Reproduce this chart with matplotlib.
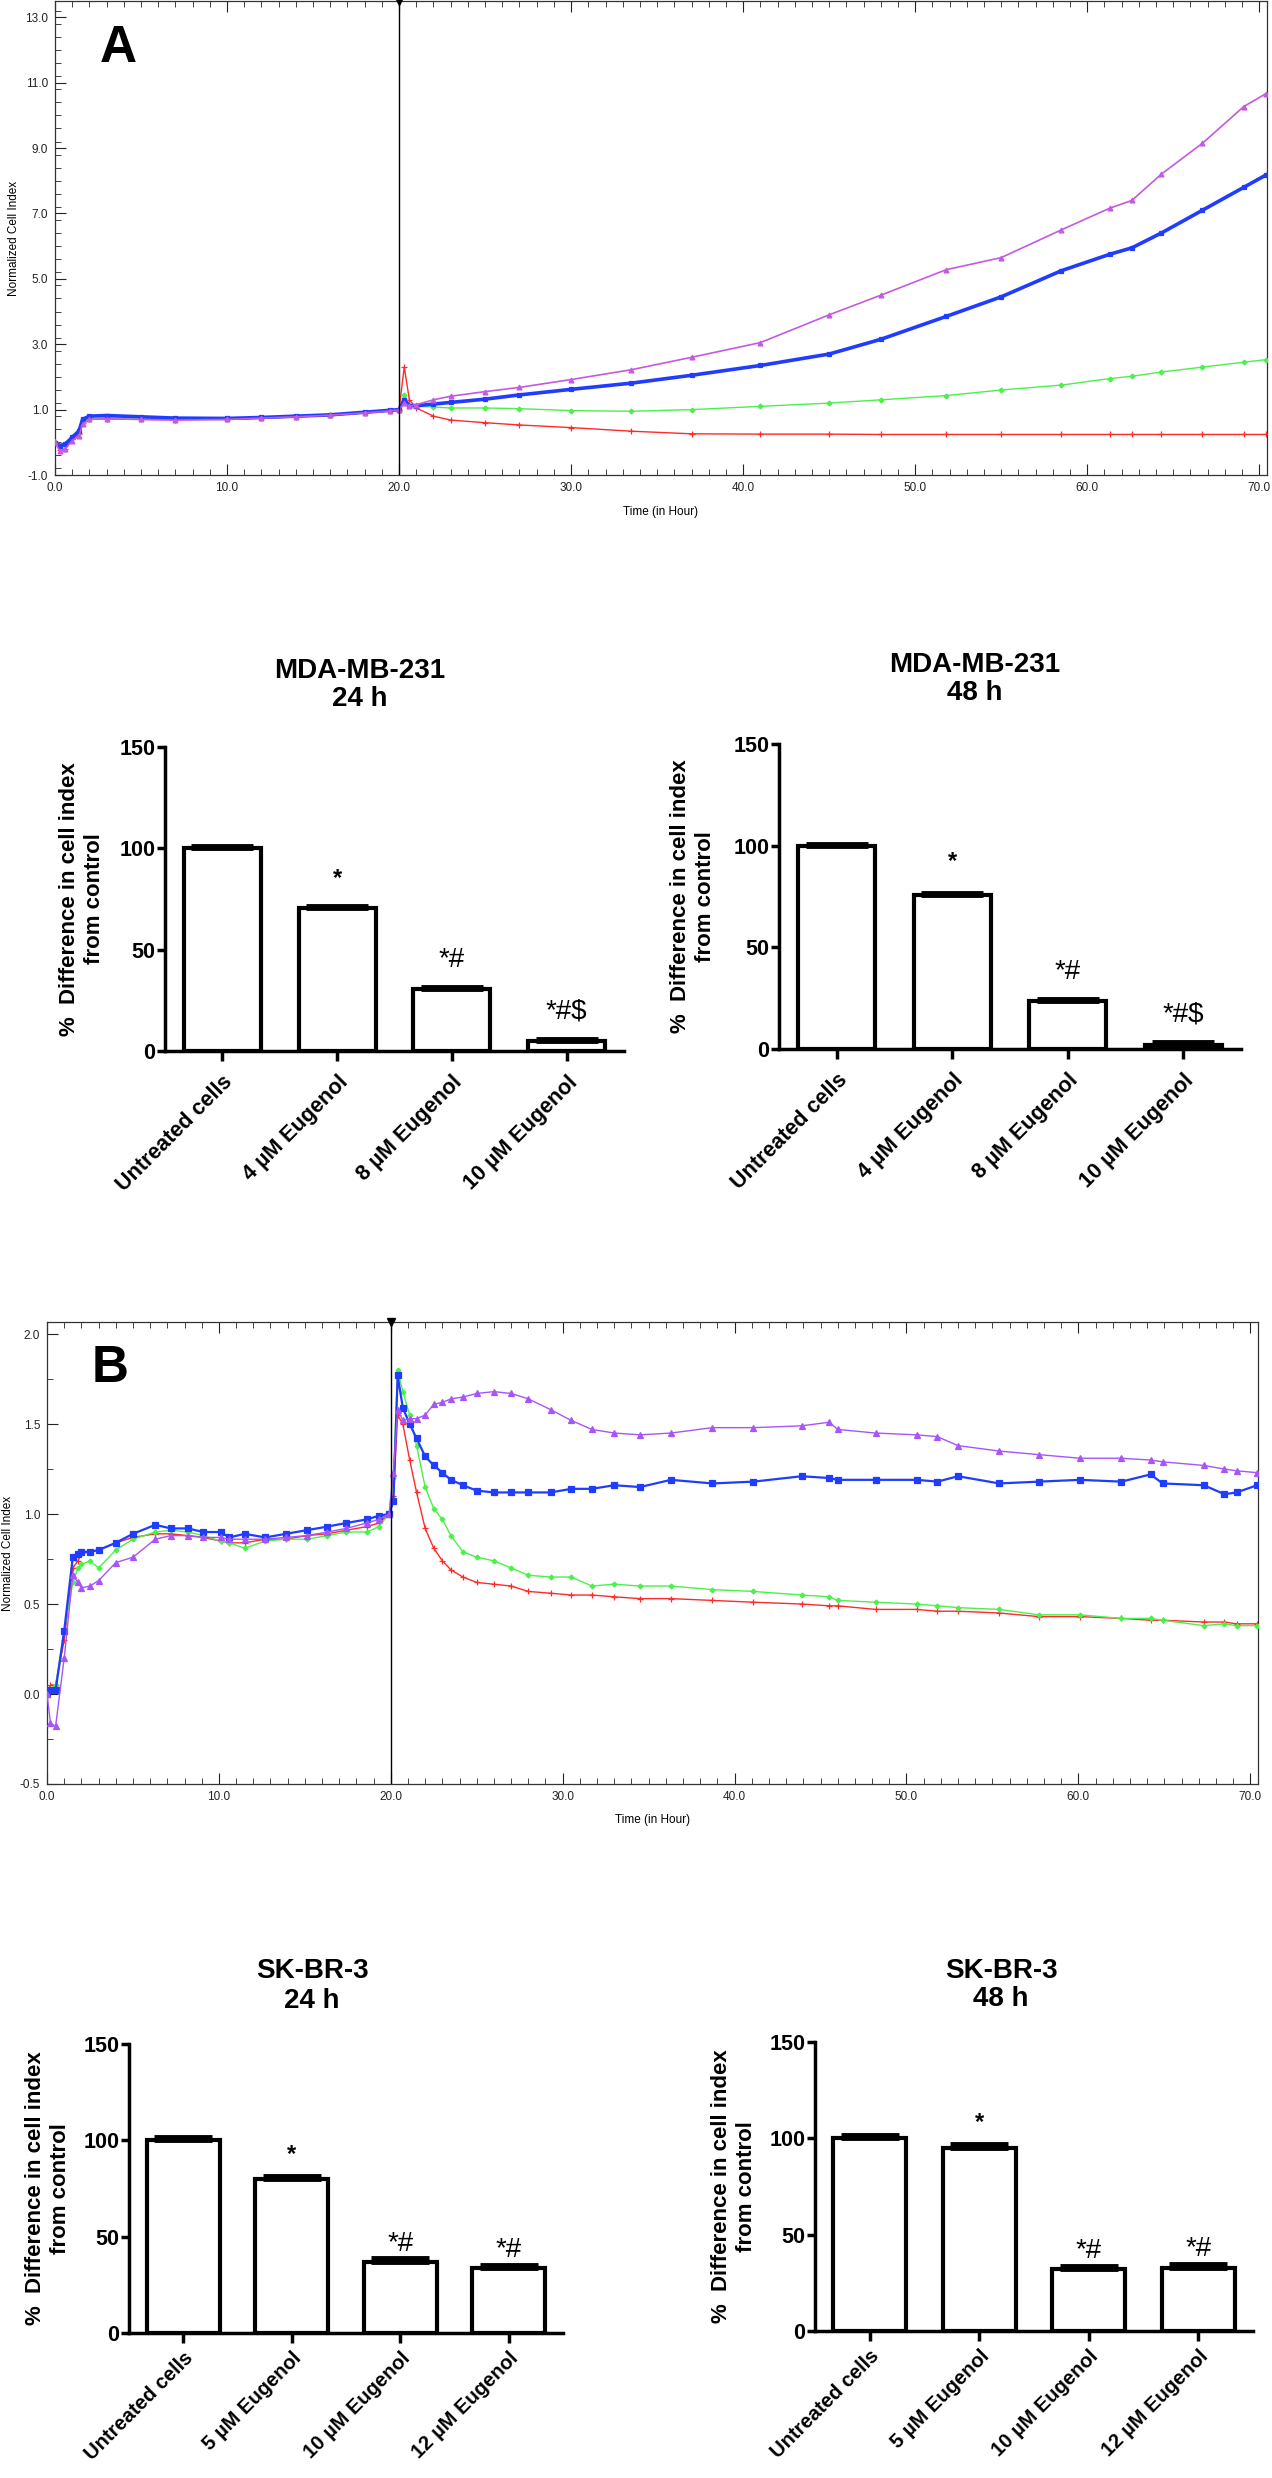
import numpy as np
import matplotlib
matplotlib.use("Agg")
import matplotlib.pyplot as plt
from matplotlib.ticker import MultipleLocator, FixedLocator, FormatStrFormatter

W, H = 1272, 2478

# ---------------- panel A : MDA-MB-231 real time cell index ----------------
a_time = [0.0, 0.3, 0.6, 1.0, 1.4, 1.6, 2.0, 3.0, 5.0, 7.0, 10.0, 12.0, 14.0, 16.0,
          18.0, 19.5, 20.0, 20.3, 20.6, 21.0, 22.0, 23.0, 25.0, 27.0, 30.0, 33.5,
          37.0, 41.0, 45.0, 48.0, 51.8, 55.0, 58.5, 61.3, 62.6, 64.3, 66.7, 69.1, 70.4]
a_untreated = [0.0, -0.28, -0.2, 0.05, 0.2, 0.55, 0.7, 0.72, 0.7, 0.68, 0.7, 0.74, 0.78,
               0.83, 0.9, 0.96, 1.0, 1.2, 1.1, 1.15, 1.3, 1.41, 1.55, 1.68, 1.92, 2.22,
               2.6, 3.05, 3.9, 4.5, 5.28, 5.65, 6.5, 7.16, 7.4, 8.2, 9.15, 10.27, 10.67]
a_eug4 = [-0.02, -0.1, -0.05, 0.15, 0.35, 0.7, 0.8, 0.82, 0.78, 0.74, 0.73, 0.76, 0.8,
          0.84, 0.92, 0.98, 1.0, 1.3, 1.12, 1.12, 1.17, 1.22, 1.32, 1.45, 1.62, 1.81,
          2.05, 2.35, 2.7, 3.15, 3.85, 4.45, 5.25, 5.75, 5.95, 6.4, 7.1, 7.8, 8.18]
a_eug8 = [0.0, -0.15, -0.05, 0.15, 0.3, 0.6, 0.72, 0.75, 0.72, 0.7, 0.71, 0.74, 0.78,
          0.83, 0.9, 0.96, 1.0, 1.45, 1.15, 1.1, 1.08, 1.05, 1.05, 1.03, 0.97, 0.95,
          1.0, 1.1, 1.2, 1.3, 1.43, 1.6, 1.75, 1.95, 2.02, 2.15, 2.3, 2.45, 2.53]
a_eug10 = [0.0, -0.25, -0.2, 0.1, 0.25, 0.6, 0.7, 0.72, 0.7, 0.69, 0.71, 0.74, 0.78,
           0.83, 0.9, 0.96, 1.0, 2.3, 1.3, 1.05, 0.8, 0.68, 0.6, 0.53, 0.45, 0.34,
           0.26, 0.25, 0.25, 0.24, 0.24, 0.24, 0.24, 0.24, 0.24, 0.24, 0.24, 0.24, 0.24]

# ---------------- panel B : SK-BR-3 real time cell index ----------------
b_time = [0.0, 0.2, 0.5, 1.0, 1.5, 1.8, 2.0, 2.5, 3.0, 4.0, 5.0, 6.3, 7.2, 8.2, 9.1,
          10.1, 10.6, 11.5, 12.7, 13.9, 15.1, 16.3, 17.4, 18.6, 19.3, 19.9, 20.15,
          20.4, 20.7, 21.1, 21.5, 22.0, 22.5, 23.0, 23.5, 24.2, 25.0, 26.0, 27.0, 28.0,
          29.3, 30.5, 31.7, 33.0, 34.5, 36.3, 38.7, 41.1, 43.9, 45.5, 46.0, 48.2, 50.6,
          51.8, 53.0, 55.4, 57.7, 60.1, 62.5, 64.2, 64.9, 67.3, 68.5, 69.2, 70.4]
b_untreated = [0.0, -0.16, -0.18, 0.2, 0.66, 0.62, 0.59, 0.6, 0.63, 0.73, 0.76, 0.86,
               0.88, 0.88, 0.87, 0.87, 0.86, 0.86, 0.86, 0.87, 0.88, 0.9, 0.92, 0.95,
               0.97, 1.0, 1.23, 1.58, 1.52, 1.53, 1.53, 1.55, 1.61, 1.62, 1.64, 1.65,
               1.67, 1.68, 1.67, 1.64, 1.58, 1.52, 1.47, 1.45, 1.44, 1.45, 1.48, 1.48,
               1.49, 1.51, 1.47, 1.45, 1.44, 1.43, 1.38, 1.35, 1.33, 1.31, 1.31, 1.3,
               1.29, 1.27, 1.25, 1.24, 1.23]
b_eug5 = [0.0, 0.02, 0.02, 0.35, 0.76, 0.78, 0.79, 0.79, 0.8, 0.84, 0.89, 0.94, 0.92,
          0.92, 0.9, 0.9, 0.87, 0.89, 0.87, 0.89, 0.91, 0.93, 0.95, 0.97, 0.99, 1.0,
          1.07, 1.77, 1.59, 1.5, 1.42, 1.32, 1.27, 1.23, 1.19, 1.16, 1.13, 1.12, 1.12,
          1.12, 1.12, 1.14, 1.14, 1.16, 1.15, 1.19, 1.17, 1.18, 1.21, 1.2, 1.19, 1.19,
          1.19, 1.18, 1.21, 1.17, 1.18, 1.19, 1.18, 1.22, 1.17, 1.16, 1.11, 1.12, 1.16]
b_eug10 = [0.0, 0.03, 0.05, 0.35, 0.62, 0.7, 0.72, 0.74, 0.7, 0.8, 0.86, 0.9, 0.91,
           0.9, 0.88, 0.85, 0.84, 0.81, 0.85, 0.86, 0.86, 0.88, 0.9, 0.9, 0.93, 1.0,
           1.2, 1.8, 1.68, 1.55, 1.38, 1.15, 1.03, 0.97, 0.88, 0.79, 0.76, 0.74, 0.7,
           0.66, 0.65, 0.65, 0.6, 0.61, 0.6, 0.6, 0.58, 0.57, 0.55, 0.54, 0.52, 0.51,
           0.5, 0.49, 0.48, 0.47, 0.44, 0.44, 0.42, 0.42, 0.41, 0.38, 0.39, 0.38, 0.38]
b_eug12 = [0.0, 0.05, 0.05, 0.3, 0.7, 0.74, 0.78, 0.79, 0.8, 0.84, 0.87, 0.89, 0.89,
           0.88, 0.87, 0.85, 0.84, 0.84, 0.86, 0.86, 0.88, 0.89, 0.91, 0.93, 0.95, 1.0,
           1.1, 1.55, 1.5, 1.3, 1.12, 0.92, 0.81, 0.74, 0.69, 0.65, 0.62, 0.61, 0.6,
           0.57, 0.56, 0.55, 0.55, 0.54, 0.53, 0.53, 0.52, 0.51, 0.5, 0.49, 0.49, 0.47,
           0.47, 0.46, 0.46, 0.45, 0.43, 0.43, 0.42, 0.41, 0.41, 0.4, 0.4, 0.39, 0.39]

# ---------------- bar charts ----------------
mda_labels = ["Untreated cells", "4 \u00b5M Eugenol", "8 \u00b5M Eugenol", "10 \u00b5M Eugenol"]
mda_24 = [100, 70.8, 30.5, 5.0]
mda_24_err = [1.0, 0.9, 0.9, 1.0]
mda_24_marks = ["", "*", "*#", "*#$"]
mda_48 = [100, 75.5, 23.5, 2.0]
mda_48_err = [1.0, 1.3, 1.0, 1.5]
mda_48_marks = ["", "*", "*#", "*#$"]

sk_labels = ["Untreated cells", "5 \u00b5M Eugenol", "10 \u00b5M Eugenol", "12 \u00b5M Eugenol"]
sk_24 = [100, 80.0, 36.8, 33.6]
sk_24_err = [1.8, 1.5, 2.0, 1.8]
sk_24_marks = ["", "*", "*#", "*#"]
sk_48 = [100, 95.2, 32.1, 32.7]
sk_48_err = [1.8, 1.6, 1.8, 2.0]
sk_48_marks = ["", "*", "*#", "*#"]

NARROW = ["Liberation Sans Narrow", "Liberation Sans", "DejaVu Sans"]
ARIAL = ["Liberation Sans", "DejaVu Sans"]


def px_axes(fig, left, top, right, bottom):
    return fig.add_axes([left / W, 1 - bottom / H, (right - left) / W, (bottom - top) / H])


def rtca_panel(ax, t, series, ylim, yticks, yminor, letter, xlabel_y, ylabel_x):
    for vals, color, marker, lw, ms in series:
        ax.plot(t, vals, color=color, marker=marker, lw=lw, ms=ms, mew=0.9, zorder=3)
    ax.set_xlim(0, 70.45)
    ax.set_ylim(*ylim)
    ax.axvline(20.0, color="black", lw=1.0, zorder=4)
    ax.plot([20.0], [ylim[1]], marker="v", color="black", ms=6, clip_on=False, zorder=5)
    ax.xaxis.set_major_locator(MultipleLocator(10))
    ax.xaxis.set_minor_locator(MultipleLocator(1))
    ax.yaxis.set_major_locator(FixedLocator(yticks))
    ax.yaxis.set_minor_locator(MultipleLocator(yminor))
    ax.xaxis.set_major_formatter(FormatStrFormatter("%.1f"))
    ax.yaxis.set_major_formatter(FormatStrFormatter("%.1f"))
    ax.tick_params(which="both", direction="in", top=True, right=False, labelsize=8.5,
                   colors="#222222")
    ax.tick_params(which="major", length=8, width=0.8, pad=5)
    ax.tick_params(which="minor", length=4, width=0.6)
    for lab in ax.get_xticklabels() + ax.get_yticklabels():
        lab.set_family(NARROW)
    for sp in ax.spines.values():
        sp.set_linewidth(0.9)
        sp.set_color("#333333")
    ax.text(0.052, 0.9, letter, transform=ax.transAxes, fontsize=37, fontweight="bold",
            family=ARIAL, ha="center", va="center")
    pos = ax.get_position()
    fig.text((pos.x0 + pos.x1) / 2, 1 - xlabel_y / H, "Time (in Hour)", family=NARROW,
             fontsize=8.5, ha="center", va="center")
    fig.text(ylabel_x / W, (pos.y0 + pos.y1) / 2, "Normalized Cell Index", family=NARROW,
             fontsize=8.5, rotation=90, ha="center", va="center")


def bar_panel(ax, labels, values, errs, marks, title, width, capsize, mark_off, lab_size, lab_pad):
    x = np.arange(len(values))
    ax.bar(x, values, width=width, color="white", edgecolor="black", linewidth=3, zorder=2)
    ax.errorbar(x, values, yerr=[np.zeros(len(errs)), errs], fmt="none", ecolor="black",
                elinewidth=3, capsize=capsize, capthick=3.5, zorder=3)
    ax.set_xlim(-0.5, 3.5)
    ax.set_ylim(0, 150)
    ax.set_yticks([0, 50, 100, 150])
    ax.set_xticks(x)
    ax.set_xticklabels(labels, rotation=45, ha="right", rotation_mode="anchor",
                       fontsize=lab_size, fontweight="bold", family=ARIAL)
    for lab in ax.get_yticklabels():
        lab.set_fontsize(15.5)
        lab.set_fontweight("bold")
        lab.set_family(ARIAL)
    ax.spines["top"].set_visible(False)
    ax.spines["right"].set_visible(False)
    ax.spines["left"].set_linewidth(2.5)
    ax.spines["bottom"].set_linewidth(2.5)
    ax.tick_params(axis="y", length=6, width=2.5, pad=1)
    ax.tick_params(axis="x", length=7, width=2.5, pad=lab_pad)
    for xi, v, e, m in zip(x, values, errs, marks):
        if not m:
            continue
        if m == "*":
            ax.text(xi, v + e + mark_off[0], m, ha="center", va="baseline", fontsize=17,
                    fontweight="bold", family=ARIAL)
        else:
            ax.text(xi, v + e + mark_off[1], m, ha="center", va="baseline", fontsize=20,
                    family=ARIAL)
    pos = ax.get_position()
    fig.text(title[1] / W, 1 - title[2] / H, title[0], ha="center", va="center",
             fontsize=20, fontweight="bold", family=ARIAL, linespacing=1.15)
    fig.text(title[3] / W, (pos.y0 + pos.y1) / 2, "%  Difference in cell index\nfrom control",
             rotation=90, ha="center", va="center", multialignment="center",
             fontsize=16, fontweight="bold", family=ARIAL, linespacing=1.3)


fig = plt.figure(figsize=(W / 100, H / 100), dpi=100)

axA = px_axes(fig, 55, 1, 1267, 475)
rtca_panel(axA, a_time,
           [(a_eug10, "#ff2a2a", "+", 1.0, 4),
            (a_eug8, "#4cf04c", "D", 1.0, 2.5),
            (a_eug4, "#1f3cff", "s", 2.6, 3.5),
            (a_untreated, "#c45ae0", "^", 1.2, 3.5)],
           (-1.0, 13.5), np.arange(-1.0, 13.1, 2.0), 0.4, "A", 512, 14)

axB = px_axes(fig, 47, 1322, 1258, 1784)
rtca_panel(axB, b_time,
           [(b_eug12, "#ff2a2a", "+", 1.0, 4),
            (b_eug10, "#4cf04c", "D", 1.0, 2.5),
            (b_eug5, "#1f3cff", "s", 1.6, 4.5),
            (b_untreated, "#a855f7", "^", 1.0, 4)],
           (-0.5, 2.067), np.arange(-0.5, 2.01, 0.5), 0.25, "B", 1820, 8)

ax1 = px_axes(fig, 165, 747, 624, 1051)
bar_panel(ax1, mda_labels, mda_24, mda_24_err, mda_24_marks,
          ("MDA-MB-231\n24 h", 360, 685, 82), 0.67, 22, (10, 10), 15.5, 8)
ax2 = px_axes(fig, 779, 744, 1241, 1049)
bar_panel(ax2, mda_labels, mda_48, mda_48_err, mda_48_marks,
          ("MDA-MB-231\n48 h", 975, 679, 693), 0.67, 22, (12, 10), 15.5, 8)
ax3 = px_axes(fig, 129, 2044, 563, 2333)
bar_panel(ax3, sk_labels, sk_24, sk_24_err, sk_24_marks,
          ("SK-BR-3\n24 h", 312, 1986, 48), 0.67, 21, (8, 4), 14.5, 4)
ax4 = px_axes(fig, 815, 2042, 1253, 2331)
bar_panel(ax4, sk_labels, sk_48, sk_48_err, sk_48_marks,
          ("SK-BR-3\n48 h", 1001, 1985, 734), 0.67, 21, (8, 4), 14.5, 4)

fig.savefig("out.png", dpi=100, facecolor="white")
